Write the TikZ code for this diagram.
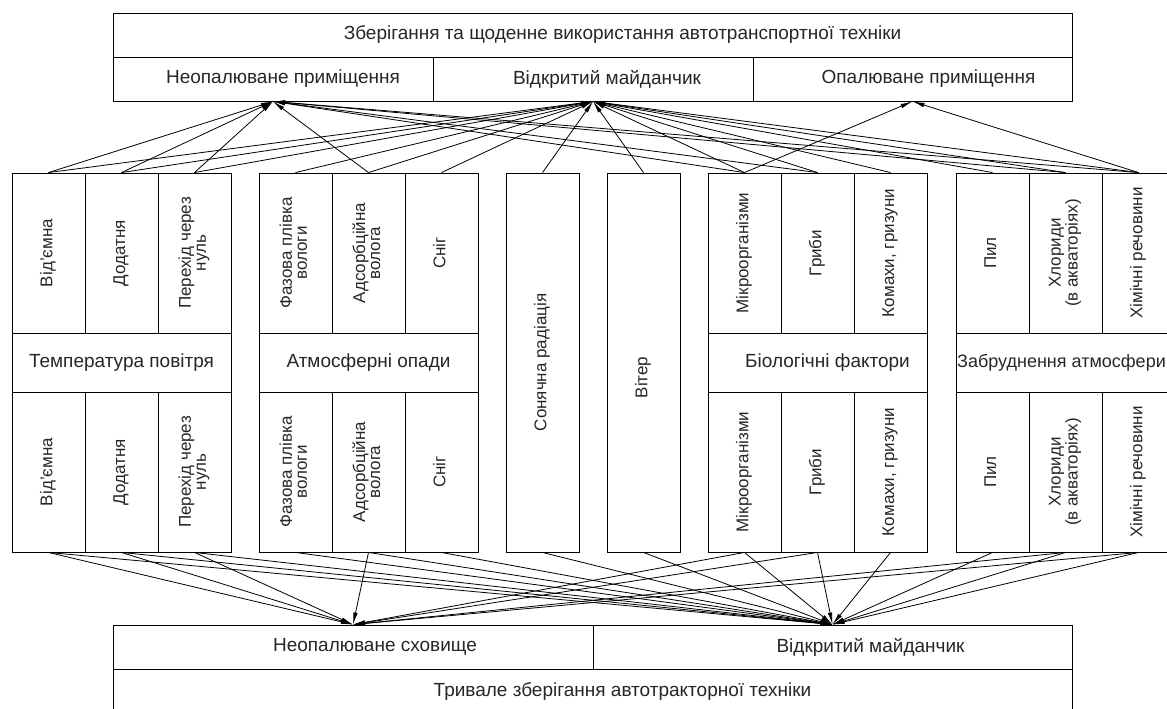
\documentclass[tikz,border=0pt]{standalone}
\usepackage{fontspec}
\setmainfont{Liberation Sans}
\usepackage{graphicx}
\usetikzlibrary{arrows.meta}

\newcommand{\vlab}[1]{\rotatebox{90}{\fontsize{17}{15}\selectfont\begin{tabular}{@{}c@{}}#1\end{tabular}}}

\tikzset{
        box/.style={draw, line width=0.9pt, inner sep=0pt, minimum height=44pt, text=black!85},
        cell/.style={draw, line width=0.9pt, inner sep=0pt, minimum width=73pt, minimum height=160pt, text=black!85},
        tall/.style={cell, minimum height=379pt},
        band/.style={draw, line width=0.9pt, inner sep=0pt, minimum width=219pt, minimum height=59pt, text=black!85},
        arr/.style={line width=0.8pt, -{Latex[length=12pt,width=4.5pt]}}
}

\begin{document}
\begin{tikzpicture}[x=1pt,y=-1pt,font=\fontsize{19}{17}\selectfont]
        \useasboundingbox (0,0) rectangle (1167,709);
        \clip (0,0) rectangle (1167,709);
        %
        \node[box,minimum width=959pt] (zber) at (592.5,35) {\hspace*{60pt}Зберігання та щоденне використання автотранспортної техніки};
        \node[box,minimum width=320pt] (neop) at (273,79) {\hspace*{20pt}Неопалюване приміщення};
        \node[box,minimum width=320pt] (vidk) at (593,79) {\hspace*{28pt}Відкритий майданчик};
        \node[box,minimum width=319pt] (opal) at (912.5,79) {\hspace*{32pt}Опалюване приміщення};
        %
        \node[cell] (t-vid) at (48.5,253) {\vlab{Від’ємна}};
        \node[cell] (t-dod) at (121.5,253) {\vlab{Додатня}};
        \node[cell] (t-per) at (194.5,253) {\vlab{Перехід через\\нуль}};
        \node[band] (temp) at (121.5,362.5) {Температура повітря};
        \node[cell] (b-vid) at (48.5,472) {\vlab{Від’ємна}};
        \node[cell] (b-dod) at (121.5,472) {\vlab{Додатня}};
        \node[cell] (b-per) at (194.5,472) {\vlab{Перехід через\\нуль}};
        %
        \node[cell] (t-faz) at (295.5,253) {\vlab{Фазова плівка\\вологи}};
        \node[cell] (t-ads) at (368.5,253) {\vlab{Адсорбційна\\волога}};
        \node[cell] (t-snig) at (441.5,253) {\vlab{Сніг}};
        \node[band] (opad) at (368.5,362.5) {Атмосферні опади};
        \node[cell] (b-faz) at (295.5,472) {\vlab{Фазова плівка\\вологи}};
        \node[cell] (b-ads) at (368.5,472) {\vlab{Адсорбційна\\волога}};
        \node[cell] (b-snig) at (441.5,472) {\vlab{Сніг}};
        %
        \node[tall] (sonce) at (542.5,362.5) {\vlab{Сонячна радіація}};
        \node[tall] (viter) at (643.5,362.5) {\vlab{Вітер\hspace*{30pt}}};
        %
        \node[cell] (t-mikro) at (744.5,253) {\vlab{Мікроорганізми}};
        \node[cell] (t-hryb) at (817.5,253) {\vlab{Гриби}};
        \node[cell] (t-komah) at (890.5,253) {\vlab{Комахи, гризуни}};
        \node[band] (biol) at (817.5,362.5) {\hspace*{20pt}Біологічні фактори};
        \node[cell] (b-mikro) at (744.5,472) {\vlab{Мікроорганізми}};
        \node[cell] (b-hryb) at (817.5,472) {\vlab{Гриби}};
        \node[cell] (b-komah) at (890.5,472) {\vlab{Комахи, гризуни}};
        %
        \node[cell] (t-pyl) at (992.5,253) {\vlab{Пил}};
        \node[cell] (t-hlor) at (1065.5,253) {\vlab{Хлориди\\(в акваторіях)}};
        \node[cell] (t-him) at (1138.5,253) {\vlab{Хімічні речовини}};
        \node[band,font=\fontsize{18}{16}\selectfont] (zabr) at (1065.5,362.5) {\hspace*{-8pt}Забруднення атмосфери};
        \node[cell] (b-pyl) at (992.5,472) {\vlab{Пил}};
        \node[cell] (b-hlor) at (1065.5,472) {\vlab{Хлориди\\(в акваторіях)}};
        \node[cell] (b-him) at (1138.5,472) {\vlab{Хімічні речовини}};
        %
        \node[box,minimum width=480pt] (neops) at (353,647) {\hspace*{44pt}Неопалюване сховище};
        \node[box,minimum width=479pt] (vidks) at (832.5,647) {\hspace*{76pt}Відкритий майданчик};
        \node[box,minimum width=959pt] (tryv) at (592.5,691) {\hspace*{60pt}Тривале зберігання автотракторної техніки};
        %
        \foreach \s in {t-vid,t-dod,t-per,t-faz,t-ads,t-snig,sonce,viter,t-mikro,t-hryb,t-komah,t-pyl,t-hlor,t-him}
                \draw[arr] (\s.north) -- (vidk.south);
        \foreach \s in {t-vid,t-dod,t-per,t-ads,t-mikro,t-hryb,t-hlor,t-him}
                \draw[arr] (\s.north) -- (neop.south);
        \foreach \s in {t-mikro,t-him}
                \draw[arr] (\s.north) -- (opal.south);
        %
        \foreach \s in {b-vid,b-dod,b-per,b-faz,b-ads,b-snig,sonce,viter,b-mikro,b-hryb,b-komah,b-pyl,b-hlor,b-him}
                \draw[arr] (\s.south) -- (vidks.north);
        \foreach \s in {b-vid,b-dod,b-per,b-ads,b-mikro,b-hryb,b-hlor,b-him}
                \draw[arr] (\s.south) -- (neops.north);
\end{tikzpicture}
\end{document}
